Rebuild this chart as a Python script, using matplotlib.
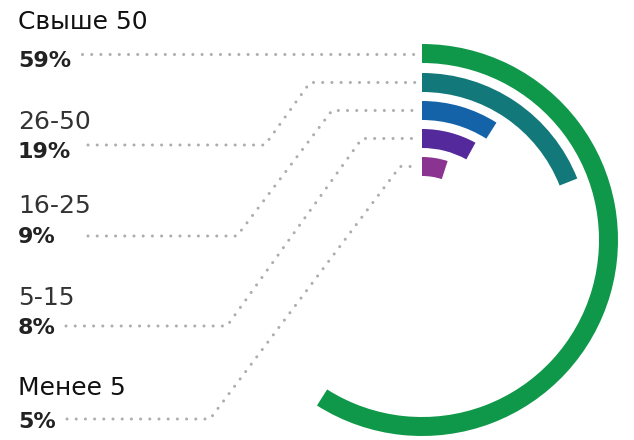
import matplotlib.pyplot as plt
from matplotlib.patches import Wedge

# данные
groups = ['Свыше 50', '26-50', '16-25', '5-15', 'Менее 5']
shares = [59, 19, 9, 8, 5]
colors = ['#10984a', '#12787a', '#1462a8', '#54299b', '#8a3391']
label_colors = ['#111111', '#333333', '#333333', '#333333', '#111111']

W, H = 634, 440
cx, cy = 422, 200          # центр колец (ось y вверх)
r_outer = [196, 167, 139, 111, 83]
ring_w = 19

# y-позиции подписей (в пикселях сверху) и изломы выносок
name_y = [22, 122, 206, 298, 388]
pct_y = [61, 152, 237, 328, 422]
line_y = [53, 145, 236, 326, 419]
line_x0 = [82, 88, 88, 66, 67]
elbow_x = [None, 265, 237, 227, 210]
top_x = [None, 310, 332, 362, 400]

fig = plt.figure(figsize=(W / 100, H / 100), dpi=100)
ax = fig.add_axes([0, 0, 1, 1])
ax.set_xlim(0, W)
ax.set_ylim(0, H)
ax.set_aspect('equal')
ax.axis('off')

dots = dict(color='#adadad', lw=2.2, ls=(0, (0.01, 3.0)), dash_capstyle='round')

for i, (g, v) in enumerate(zip(groups, shares)):
    r = r_outer[i]
    ax.add_patch(Wedge((cx, cy), r, 90 - v * 3.6, 90, width=ring_w,
                       facecolor=colors[i], edgecolor='none'))
    # выноска до начала дуги
    y_arc = cy + r - ring_w / 2
    y_lab = H - line_y[i]
    if elbow_x[i] is None:
        xs, ys = [line_x0[i], cx - 3], [y_arc, y_arc]
    else:
        xs = [line_x0[i], elbow_x[i], top_x[i], cx - 3]
        ys = [y_lab, y_lab, y_arc, y_arc]
    ax.plot(xs, ys, **dots)
    ax.text(18, H - name_y[i], g, fontsize=18, color=label_colors[i],
            va='center', ha='left')
    ax.text(18, H - pct_y[i], f'{v}%', fontsize=16, fontweight='bold',
            color='#222222', va='center', ha='left')

fig.savefig('out.png', dpi=100)
